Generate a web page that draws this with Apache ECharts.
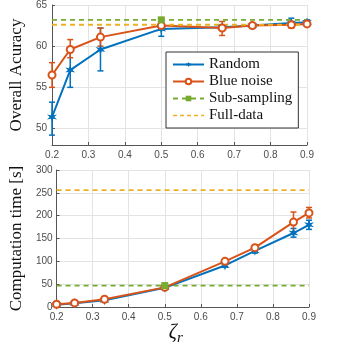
<!DOCTYPE html>
<html>
<head>
<meta charset="utf-8">
<script src="https://cdn.jsdelivr.net/npm/echarts@6/dist/echarts.min.js"></script>
<style>
html, body { margin: 0; padding: 0; background: #fff; }
#main { width: 363px; height: 359px; }
</style>
</head>
<body>
<div id="main"></div>
<script>
// sampling ratio
const ratios = [0.2, 0.25, 0.333, 0.5, 0.667, 0.75, 0.857, 0.9]
const xRange = [0.2, 0.9]

// accuracy (top)
const accRandom = [51.4, 57.1, 59.6, 62.1, 62.3, 62.5, 62.8, 62.9]
const accRandomLo = [49.2, 55.0, 57.0, 61.2, 62.0, 62.2, 62.3, 62.6]
const accRandomHi = [53.2, 59.5, 62.2, 62.7, 62.6, 62.8, 63.4, 63.2]
const accBlue = [56.5, 59.6, 61.1, 62.5, 62.2, 62.5, 62.6, 62.7]
const accBlueLo = [55.0, 58.6, 60.0, 62.2, 61.3, 62.2, 62.2, 62.4]
const accBlueHi = [58.0, 60.8, 62.2, 62.8, 63.0, 62.8, 63.0, 63.0]
const accSubSampling = 63.2
const accFullData = 62.6
const accTicks = [50, 55, 60, 65]

// computation time (bottom)
const timeRandom = [5, 8, 15, 42, 91, 123, 162, 180]
const timeRandomLo = [3, 6, 13, 40, 87, 118, 153, 170]
const timeRandomHi = [7, 10, 17, 44, 95, 127, 172, 190]
const timeBlue = [6, 9, 17, 43, 100, 130, 186, 206]
const timeBlueLo = [4, 7, 14, 41, 95, 124, 165, 195]
const timeBlueHi = [8, 11, 19, 45, 105, 136, 208, 218]
const timeSubSampling = 47
const timeFullData = 256
const subSamplingX = 0.5

const BLUE = '#0072BD'
const ORANGE = '#D95319'
const GREEN = '#77AC30'
const YELLOW = '#EDB120'
const STAR = 'path://M0,-10 L2,-3.5 L8.66,-5 L4,0 L8.66,5 L2,3.5 L0,10 L-2,3.5 L-8.66,5 L-4,0 L-8.66,-5 L-2,-3.5 Z'
const DASHES = 'path://M0,0h4v1.6h-4Z M7,0h4v1.6h-4Z M14,0h4v1.6h-4Z M21,0h4v1.6h-4Z M28,0h3v1.6h-3Z'

const charts = echarts.init(document.getElementById('main'))

function pairs (ys) {
  return ratios.map((x, i) => [x, ys[i]])
}
function errData (lo, hi) {
  return ratios.map((x, i) => [x, lo[i], hi[i]])
}
function flatLine (y, markX) {
  const xs = markX == null ? xRange : [xRange[0], markX, xRange[1]]
  return xs.map(x => ({
    value: [x, y],
    symbol: x === markX ? 'rect' : 'none'
  }))
}
function errorBar (name, data, color, idx) {
  return {
    name: name + ' err',
    type: 'custom',
    xAxisIndex: idx,
    yAxisIndex: idx,
    data: data,
    z: 3,
    itemStyle: { color: color },
    renderItem (params, api) {
      const x = api.value(0)
      const top = api.coord([x, api.value(2)])
      const bot = api.coord([x, api.value(1)])
      const w = 3
      const style = { stroke: color, lineWidth: 1.5 }
      return {
        type: 'group',
        children: [
          { type: 'line', shape: { x1: top[0], y1: top[1], x2: bot[0], y2: bot[1] }, style },
          { type: 'line', shape: { x1: top[0] - w, y1: top[1], x2: top[0] + w, y2: top[1] }, style },
          { type: 'line', shape: { x1: bot[0] - w, y1: bot[1], x2: bot[0] + w, y2: bot[1] }, style }
        ]
      }
    }
  }
}

const axisText = { color: '#4d4d4d', fontSize: 10, fontFamily: 'Liberation Sans' }
const gridLine = { show: true, lineStyle: { color: '#e3e3e3', width: 1 } }
const axisLine = { show: true, lineStyle: { color: '#555', width: 1 } }

function xAxis (idx, name) {
  return {
    type: 'value',
    gridIndex: idx,
    min: 0.2,
    max: 0.9,
    interval: 0.1,
    axisLine: axisLine,
    axisTick: { show: true, inside: true, length: 3, lineStyle: { color: '#555' } },
    axisLabel: Object.assign({ margin: 5, formatter: v => String(Math.round(v * 10) / 10) }, axisText),
    splitLine: gridLine,
    name: name || '',
    nameLocation: 'middle',
    nameGap: 12,
    nameTextStyle: {
      padding: [0, 14, 0, 0],
      rich: {
        a: { fontFamily: 'Liberation Serif', fontStyle: 'italic', fontSize: 20, color: '#111' },
        b: { fontFamily: 'Liberation Serif', fontStyle: 'italic', fontSize: 15, color: '#111', padding: [10, 0, 0, 0] }
      }
    }
  }
}

const options = {
  backgroundColor: '#fff',
  animation: false,
  grid: [
    { left: 30, right: 56, top: 3, height: 142 },
    { left: 32, right: 54, top: 170, height: 137 }
  ],
  legend: {
    data: [
      { name: 'Random' },
      { name: 'Blue noise' },
      { name: 'Sub-sampling' },
      { name: 'Full-data', icon: DASHES }
    ],
    orient: 'vertical',
    left: 166,
    top: 52,
    padding: [5, 6, 5, 6],
    itemGap: 2,
    itemWidth: 31,
    itemHeight: 7,
    backgroundColor: '#fff',
    borderColor: '#333',
    borderWidth: 1,
    textStyle: { fontFamily: 'Liberation Serif', fontSize: 15, lineHeight: 15, color: '#111' }
  },
  xAxis: [xAxis(0), xAxis(1, '{a|ζ}{b|r}')],
  yAxis: [
    {
      type: 'value',
      gridIndex: 0,
      min: 48,
      max: 65,
      axisLine: axisLine,
      axisTick: { show: true, inside: true, length: 3, customValues: accTicks, lineStyle: { color: '#555' } },
      axisLabel: Object.assign({ margin: 5, customValues: accTicks }, axisText),
      splitLine: gridLine,
      name: 'Overall Acuracy',
      nameLocation: 'middle',
      nameGap: 22,
      nameTextStyle: { fontFamily: 'Liberation Serif', fontSize: 17, color: '#111' }
    },
    {
      type: 'value',
      gridIndex: 1,
      min: 0,
      max: 300,
      interval: 50,
      axisLine: axisLine,
      axisTick: { show: true, inside: true, length: 3, lineStyle: { color: '#555' } },
      axisLabel: Object.assign({ margin: 4 }, axisText),
      splitLine: gridLine,
      name: 'Computation time [s]',
      nameLocation: 'middle',
      nameGap: 25,
      nameTextStyle: { fontFamily: 'Liberation Serif', fontSize: 17, color: '#111' }
    }
  ],
  series: [
    // top: accuracy
    {
      name: 'Random', type: 'line', xAxisIndex: 0, yAxisIndex: 0,
      data: pairs(accRandom), symbol: STAR, symbolSize: 10,
      lineStyle: { color: BLUE, width: 2 }, itemStyle: { color: BLUE }
    },
    {
      name: 'Blue noise', type: 'line', xAxisIndex: 0, yAxisIndex: 0,
      data: pairs(accBlue), symbol: 'emptyCircle', symbolSize: 7,
      lineStyle: { color: ORANGE, width: 2 }, itemStyle: { color: ORANGE, borderWidth: 1.5 }
    },
    {
      name: 'Sub-sampling', type: 'line', xAxisIndex: 0, yAxisIndex: 0,
      data: flatLine(accSubSampling, subSamplingX), symbol: 'rect', symbolSize: 7,
      lineStyle: { color: GREEN, type: [5, 4], width: 1.8 }, itemStyle: { color: GREEN }
    },
    {
      name: 'Full-data', type: 'line', xAxisIndex: 0, yAxisIndex: 0,
      data: flatLine(accFullData, null), symbol: 'none',
      lineStyle: { color: YELLOW, type: [5, 4], width: 1.8 }, itemStyle: { color: YELLOW }
    },
    errorBar('Random', errData(accRandomLo, accRandomHi), BLUE, 0),
    errorBar('Blue noise', errData(accBlueLo, accBlueHi), ORANGE, 0),
    // bottom: computation time
    {
      name: 'Random', type: 'line', xAxisIndex: 1, yAxisIndex: 1,
      data: pairs(timeRandom), symbol: STAR, symbolSize: 10,
      lineStyle: { color: BLUE, width: 2 }, itemStyle: { color: BLUE }
    },
    {
      name: 'Blue noise', type: 'line', xAxisIndex: 1, yAxisIndex: 1,
      data: pairs(timeBlue), symbol: 'emptyCircle', symbolSize: 7,
      lineStyle: { color: ORANGE, width: 2 }, itemStyle: { color: ORANGE, borderWidth: 1.5 }
    },
    {
      name: 'Sub-sampling', type: 'line', xAxisIndex: 1, yAxisIndex: 1,
      data: flatLine(timeSubSampling, subSamplingX), symbol: 'rect', symbolSize: 7,
      lineStyle: { color: GREEN, type: [5, 4], width: 1.8 }, itemStyle: { color: GREEN }
    },
    {
      name: 'Full-data', type: 'line', xAxisIndex: 1, yAxisIndex: 1,
      data: flatLine(timeFullData, null), symbol: 'none',
      lineStyle: { color: YELLOW, type: [5, 4], width: 1.8 }, itemStyle: { color: YELLOW }
    },
    errorBar('Random', errData(timeRandomLo, timeRandomHi), BLUE, 1),
    errorBar('Blue noise', errData(timeBlueLo, timeBlueHi), ORANGE, 1)
  ]
}
charts.setOption(options)
</script>
</body>
</html>
